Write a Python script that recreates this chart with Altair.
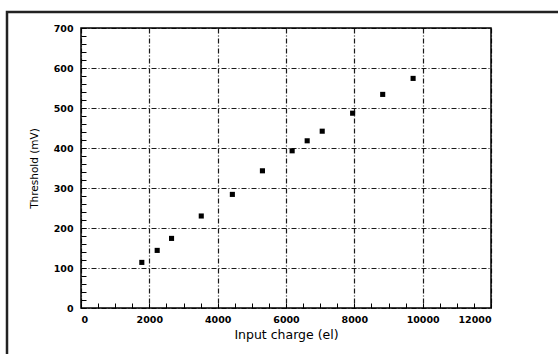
import altair as alt
import pandas as pd

# Measured threshold versus injected input charge
charge_el = [1780, 2230, 2650, 3520, 4430, 5310, 6180, 6620, 7060, 7950, 8830, 9720]
threshold_mv = [114, 144, 174, 230, 284, 343, 393, 418, 442, 487, 534, 574]

x_major = [0, 2000, 4000, 6000, 8000, 10000, 12000]
x_minor = list(range(0, 12001, 500))
y_major = [0, 100, 200, 300, 400, 500, 600, 700]
y_minor = list(range(0, 701, 20))

df = pd.DataFrame({"charge": charge_el, "threshold": threshold_mv})

FONT = "DejaVu Sans"
x_scale = alt.Scale(domain=[0, 12000], nice=False, zero=False)
y_scale = alt.Scale(domain=[0, 700], nice=False, zero=False)

grid_style = dict(grid=True, gridColor="black", gridWidth=1.2, gridDash=[5, 2, 1, 2], gridOpacity=0.9)

points = alt.Chart(df).mark_square(size=26, color="black", opacity=1).encode(
    x=alt.X("charge:Q", scale=x_scale, axis=alt.Axis(
        values=x_major, format="d", title="Input charge (el)", ticks=False, domain=False,
        labelFont=FONT, labelFontWeight="bold", labelFontSize=9.5, labelPadding=6,
        labelColor="black", titleFont=FONT, titleFontWeight="normal", titleFontSize=12.5,
        titleColor="black", titlePadding=5, **grid_style)),
    y=alt.Y("threshold:Q", scale=y_scale, axis=alt.Axis(
        values=y_major, format="d", title="Threshold (mV)", ticks=False, domain=False,
        labelFont=FONT, labelFontWeight="bold", labelFontSize=9.5, labelPadding=8,
        labelColor="black", titleFont=FONT, titleFontWeight="normal", titleFontSize=10.5,
        titleColor="black", titlePadding=14, **grid_style)),
)

# Inward-pointing minor ticks: an unlabeled axis pulled inside the frame
minor_ticks = alt.Chart(df).mark_point(opacity=0).encode(
    x=alt.X("charge:Q", scale=x_scale, axis=alt.Axis(
        values=x_minor, orient="bottom", labels=False, ticks=True, tickSize=5,
        tickColor="black", tickWidth=1, offset=-5, domain=False, grid=False, title=None)),
    y=alt.Y("threshold:Q", scale=y_scale, axis=alt.Axis(
        values=y_minor, orient="left", labels=False, ticks=True, tickSize=5,
        tickColor="black", tickWidth=1, offset=-5, domain=False, grid=False, title=None)),
)

# Outer page frame
frame = alt.Chart(pd.DataFrame({"k": [0]})).mark_rect(
    fill=None, stroke="#222", strokeWidth=2.5
).encode(x=alt.value(-74), x2=alt.value(700), y=alt.value(-16), y2=alt.value(500))

chart = alt.layer(frame, points, minor_ticks).resolve_axis(
    x="independent", y="independent"
).properties(
    width=410, height=280,
    autosize=alt.AutoSizeParams(type="none"),
    padding={"left": 81, "top": 28, "right": 67, "bottom": 46},
    background="white",
).configure_view(stroke="black", strokeWidth=1.5)

chart.save("out.html", embed_options={"renderer": "svg", "actions": False})
